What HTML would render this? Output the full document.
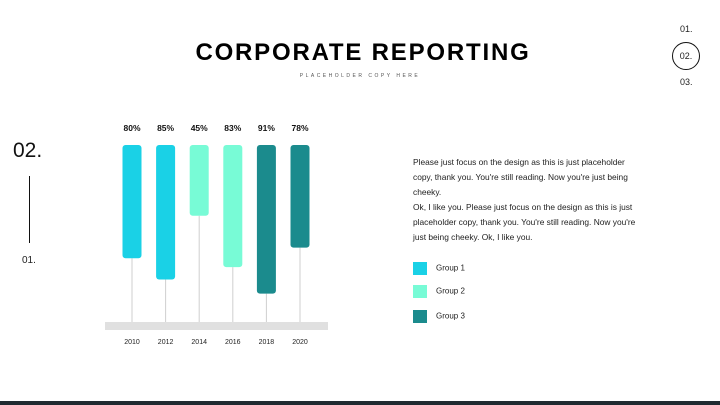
<!DOCTYPE html>
<html><head><meta charset="utf-8"><style>
body{margin:0;width:720px;height:405px;background:#fff;font-family:"Liberation Sans",Arial,sans-serif;position:relative;overflow:hidden}
.abs{position:absolute}
</style></head><body>
<div class="abs" style="left:0;width:726px;top:39px;text-align:center;font-size:24px;font-weight:bold;letter-spacing:1.8px;color:#000">CORPORATE REPORTING</div>
<div class="abs" style="left:0;width:720px;top:73px;text-align:center;font-size:5px;letter-spacing:2.5px;color:#555">PLACEHOLDER COPY HERE</div>
<div class="abs" style="left:680px;top:24px;font-size:9px;color:#222">01.</div>
<div class="abs" style="left:672px;top:42px;width:26px;height:26px;border:1px solid #111;border-radius:50%;font-size:9px;line-height:26px;text-align:center;color:#222">02.</div>
<div class="abs" style="left:680px;top:77px;font-size:9px;color:#222">03.</div>
<div class="abs" style="left:13px;top:139px;font-size:21px;color:#111">02.</div>
<div class="abs" style="left:29px;top:176px;width:1px;height:67px;background:#111"></div>
<div class="abs" style="left:22px;top:255px;font-size:10px;color:#222">01.</div>
<div class="abs" style="left:413px;top:155px;width:240px;white-space:nowrap;font-size:8.4px;line-height:15px;color:#222">Please just focus on the design as this is just placeholder<br>copy, thank you. You're still reading. Now you're just being<br>cheeky.<br>Ok, I like you. Please just focus on the design as this is just<br>placeholder copy, thank you. You're still reading. Now you're<br>just being cheeky. Ok, I like you.</div>
<div class="abs" style="left:413px;top:262px;font-size:8px;color:#222"><span style="display:inline-block;width:14px;height:13px;background:#1ad1e6;vertical-align:middle;margin-right:9px"></span>Group 1</div>
<div class="abs" style="left:413px;top:285px;font-size:8px;color:#222"><span style="display:inline-block;width:14px;height:13px;background:#78fbd6;vertical-align:middle;margin-right:9px"></span>Group 2</div>
<div class="abs" style="left:413px;top:310px;font-size:8px;color:#222"><span style="display:inline-block;width:14px;height:13px;background:#1b8b8d;vertical-align:middle;margin-right:9px"></span>Group 3</div>
<div class="abs" style="left:0;top:401px;width:720px;height:4px;background:#1f2a30"></div>
<svg class="abs" style="left:0;top:0" width="720" height="405" id="chart"></svg>
<script>
const categories=["2010","2012","2014","2016","2018","2020"];
const percentLabels=[80,85,45,83,91,78];
const barExtent=[64,76,40,69,84,58];
const groups=[1,1,2,2,3,3];
const colors={1:"#1ad1e6",2:"#78fbd6",3:"#1b8b8d"};
const svg=document.getElementById('chart');
const NS="http://www.w3.org/2000/svg";
const x0=132,step=33.6,yTop=145,yFloor=322;
const xs=i=>x0+i*step;
const ys=v=>yTop+v/100*(yFloor-yTop);
function mk(t,a){const e=document.createElementNS(NS,t);for(const k in a)e.setAttribute(k,a[k]);svg.appendChild(e);return e;}
categories.forEach((c,i)=>{
 const cx=xs(i);
 const ln=mk('line',{x1:cx,x2:cx,y1:ys(barExtent[i]),y2:yFloor,stroke:'#cfcfcf','stroke-width':1});
 
 
});
const floor=mk('rect',{x:105,y:yFloor,width:223,height:8,fill:'#e0e0e0'});


categories.forEach((c,i)=>{
 const cx=xs(i);
 const r=mk('rect',{x:cx-9.5,y:yTop,width:19,height:ys(barExtent[i])-yTop,rx:3,fill:colors[groups[i]]});
 
 
 const t=mk('text',{x:cx,y:131,'text-anchor':'middle','font-size':8.5,'font-weight':'bold',fill:'#111','font-family':'Liberation Sans, sans-serif'});
 t.textContent=percentLabels[i]+'%';
 
 
 const y=mk('text',{x:cx,y:344,'text-anchor':'middle','font-size':7,fill:'#222','font-family':'Liberation Sans, sans-serif'});
 y.textContent=c;
 
 
});
</script>
</body></html>
